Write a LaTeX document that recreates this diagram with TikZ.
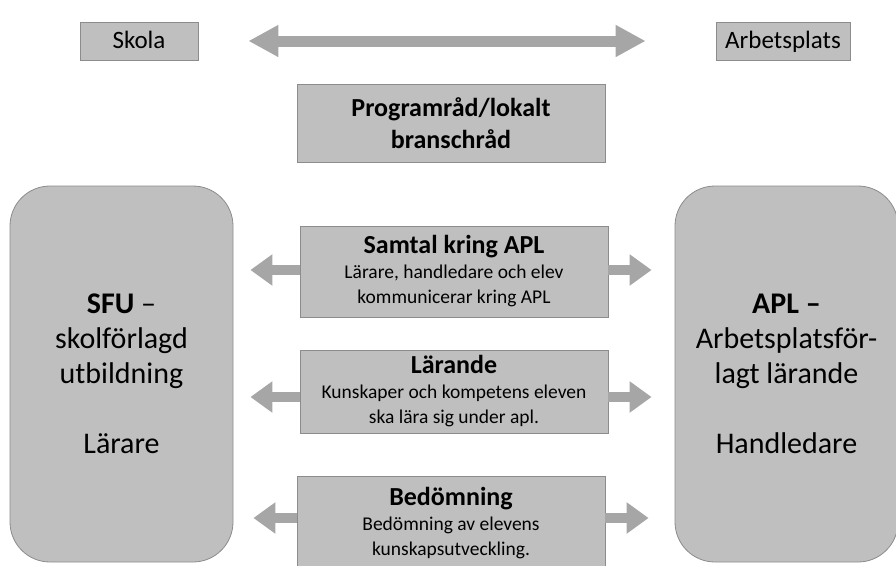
\documentclass[tikz,border=0pt]{standalone}
\usepackage{fontspec}
\setmainfont{Carlito}
\usetikzlibrary{arrows.meta}

\definecolor{boxfill}{HTML}{BFBFBF}
\definecolor{boxline}{HTML}{8C8C8C}
\definecolor{arrowgray}{HTML}{A6A6A6}

\newcommand{\titlefont}{\fontsize{26}{25}\selectfont\bfseries}

\begin{document}
\begin{tikzpicture}[x=1pt,y=-1pt,
    box/.style={draw=boxline,fill=boxfill,line width=0.8pt,align=center,inner sep=0pt},
    bigbox/.style={box,rounded corners=40pt,minimum width=223pt,minimum height=376pt,
        font=\fontsize{30}{35}\selectfont},
    smallbox/.style={box,minimum height=38pt,text height=16pt,text depth=2pt,
        font=\fontsize{25}{30}\selectfont},
    midbox/.style={box,minimum width=308pt,font=\fontsize{19.5}{25}\selectfont},
    fat/.style={arrowgray,line width=11pt,{Triangle[width=30pt,length=30pt]}-{Triangle[width=30pt,length=30pt]}},
    fatsmall/.style={arrowgray,line width=10pt,-{Triangle[width=30pt,length=22pt]}}]
    \useasboundingbox (0,0) rectangle (896,565);

    % top row
    \node[smallbox,minimum width=118pt] (skola) at (139,41) {Skola};
    \node[smallbox,minimum width=134pt] (arbete) at (783,41) {Arbetsplats};
    \draw[fat,shorten >=70pt,shorten <=50pt] (skola) -- (arbete);

    \node[box,minimum width=308pt,minimum height=78pt,
        font=\fontsize{26}{32}\selectfont\bfseries] (programrad) at (451,123)
        {Programråd/lokalt\\branschråd};

    % the two sides
    \node[bigbox] (sfu) at (121.5,374) {\textbf{SFU} --\\skolförlagd\\utbildning\\[35pt]Lärare};
    \node[bigbox] (apl) at (786.5,374) {\textbf{APL --}\\Arbetsplatsför-\\lagt lärande\\[35pt]Handledare};

    % middle column
    \node[midbox,minimum height=91pt] (samtal) at (454,271.5)
        {{\titlefont Samtal kring APL}\\Lärare, handledare och elev\\kommunicerar kring APL};
    \node[midbox,minimum height=83pt] (larande) at (454,391.5)
        {{\titlefont Lärande}\\Kunskaper och kompetens eleven\\ska lära sig under apl.};
    \node[midbox,minimum height=94pt] (bedomning) at (451,523)
        {{\titlefont Bedömning}\\Bedömning av elevens\\kunskapsutveckling.};

    \draw[fatsmall,shorten >=17pt] (samtal.west |- 0,270) -- (sfu.east |- 0,270);
    \draw[fatsmall,shorten >=23pt] (samtal.east |- 0,270) -- (apl.west |- 0,270);
    \draw[fatsmall,shorten >=17pt] (larande.west |- 0,397) -- (sfu.east |- 0,397);
    \draw[fatsmall,shorten >=23pt] (larande.east |- 0,397) -- (apl.west |- 0,397);
    \draw[fatsmall,shorten >=20pt] (bedomning.west |- 0,518) -- (sfu.east |- 0,518);
    \draw[fatsmall,shorten >=26pt] (bedomning.east |- 0,518) -- (apl.west |- 0,518);
\end{tikzpicture}
\end{document}
